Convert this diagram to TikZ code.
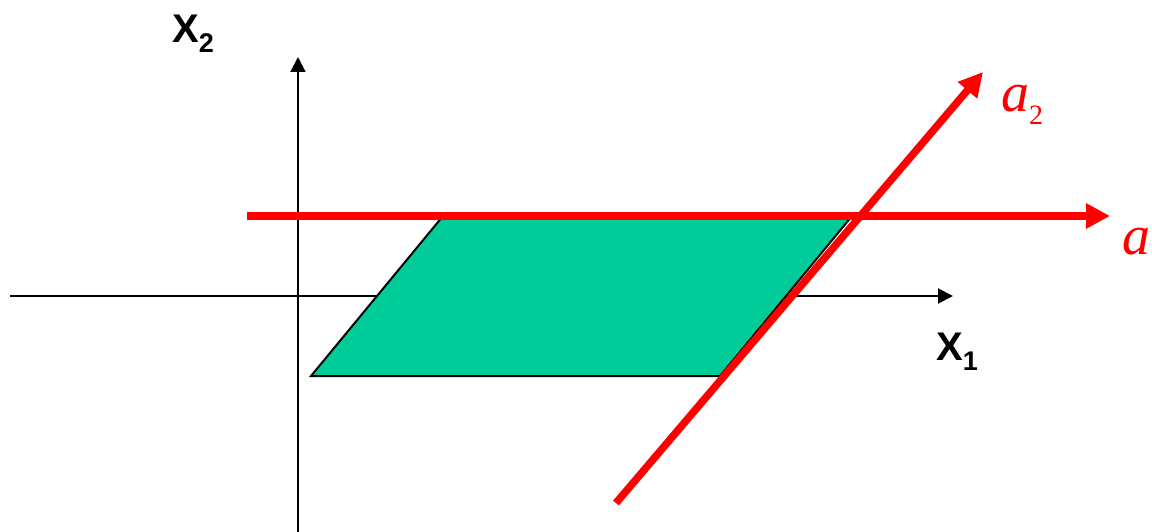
\documentclass[tikz,border=0pt]{standalone}
\usepackage{fontspec}
\setmainfont{Liberation Serif}
\setsansfont{Liberation Sans}
\usetikzlibrary{arrows.meta}
\definecolor{fillgreen}{RGB}{0,204,153}
\newcommand\axsub[1]{\raisebox{-10pt}{\fontsize{27}{27}\selectfont #1}}
\newcommand\vsub[1]{\raisebox{-13pt}{\fontsize{28}{28}\selectfont\upshape #1}}
\begin{document}
\begin{tikzpicture}[x=1pt,y=-1pt,
  axis/.style={draw=black,line width=2pt,-{Triangle[length=15pt,width=15pt]}},
  vecline/.style={draw=red,line width=7.5pt,-{Triangle[length=24pt,width=24pt]}},
  region/.style={fill=fillgreen,draw=black,line width=2pt,line join=miter},
  axlab/.style={inner sep=0pt,anchor=base west,font=\sffamily\bfseries\fontsize{40}{40}\selectfont},
  veclab/.style={inner sep=0pt,anchor=base west,text=red,font=\itshape\fontsize{56}{56}\selectfont}]
\useasboundingbox (0,0) rectangle (1152,532);
% axes
\coordinate (hx0) at (10,296);
\coordinate (hx1) at (953,296);
\coordinate (vy0) at (298,532);
\coordinate (vy1) at (298,57);
\draw[axis] (hx0) -- (hx1);
\draw[axis] (vy0) -- (vy1);
% region
\coordinate (p1) at (443,216);
\coordinate (p2) at (852,216);
\coordinate (p3) at (720,376);
\coordinate (p4) at (311,376);
\path[region] (p1) -- (p2) -- (p3) -- (p4) -- cycle;
% red lines
\coordinate (ra0) at (247,216);
\coordinate (ra1) at (1110,216);
\coordinate (rb0) at (616,503);
\coordinate (rb1) at (983,72);
\draw[vecline] (ra0) -- (ra1);
\draw[vecline] (rb0) -- (rb1);
% labels
\node[axlab] (x2) at (172,43) {X\axsub{2}};
\node[axlab] (x1) at (936,360) {X\axsub{1}};
\node[veclab] (la2) at (1001,112) {a\vsub{2}};
\node[veclab] (la) at (1122,254) {a};
\end{tikzpicture}
\end{document}
